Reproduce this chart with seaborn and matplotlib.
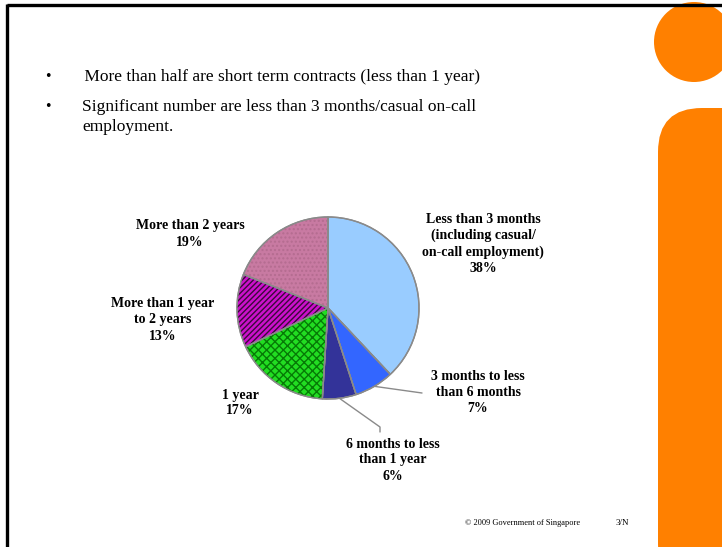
import numpy as np
import matplotlib
matplotlib.use("Agg")
import matplotlib.pyplot as plt
from matplotlib.patches import Circle, FancyBboxPatch
import seaborn as sns

# Contract duration shares (percent), clockwise from 12 o'clock
categories = [
    "Less than 3 months\n(including casual/\non-call employment)",
    "3 months to less\nthan 6 months",
    "6 months to less\nthan 1 year",
    "1 year",
    "More than 1 year\nto 2 years",
    "More than 2 years",
]
shares = [38, 7, 6, 17, 13, 19]

bullets = [
    " More than half are short term contracts (less than 1 year)",
    "Significant number are less than 3 months/casual on-call\nemployment.",
]
footer = "\u00a9 2009 Government of Singapore"
page = "3/N"

sns.set_theme(style="white")
plt.rcParams["font.family"] = ["Liberation Serif", "DejaVu Serif"]
plt.rcParams["hatch.linewidth"] = 1.0
plt.rcParams["text.color"] = "black"

W, H = 722, 547
fig = plt.figure(figsize=(W / 100, H / 100), dpi=100)
fig.patch.set_facecolor("white")

# Slide canvas in pixel coordinates (y grows downwards)
bg = fig.add_axes([0, 0, 1, 1])
bg.set_xlim(0, W)
bg.set_ylim(H, 0)
bg.axis("off")

orange = "#FF8000"
bg.add_patch(Circle((694, 42), 40, color=orange, lw=0, zorder=1))
bg.add_patch(FancyBboxPatch((658, 108), 110, 480,
                            boxstyle="round,pad=0,rounding_size=44",
                            color=orange, lw=0, zorder=1))

# Slide frame
bg.plot([7, W], [5, 5], color="black", lw=2.4, solid_capstyle="butt", zorder=3)
bg.plot([7, 7], [4, H], color="black", lw=2.4, solid_capstyle="butt", zorder=3)

# Bullet points
bfs = 12.5
bg.text(48, 75, "\u2022", fontsize=bfs - 1, va="center_baseline", ha="center")
bg.text(80, 75, bullets[0], fontsize=bfs, va="center_baseline", ha="left")
bg.text(48, 105, "\u2022", fontsize=bfs - 1, va="center_baseline", ha="center")
first, second = bullets[1].split("\n")
bg.text(82, 105, first, fontsize=bfs, va="center_baseline", ha="left")
bg.text(82, 125, second, fontsize=bfs, va="center_baseline", ha="left")

# Footer
bg.text(523, 523, footer, fontsize=6, va="center", ha="center")
bg.text(622, 523, page, fontsize=6.5, va="center", ha="center")

# Pie chart
cx, cy, R = 328, 308, 91
pax = fig.add_axes([(cx - 100) / W, 1 - (cy + 100) / H, 200 / W, 200 / H])

colors = ["#99CCFF", "#3366FF", "#333399", "#22DD22", "#CC11CC", "#C87AA2"]
hatches = [None, None, None, "xxxx", "//////", "...."]
hatch_colors = [None, None, None, "#067A06", "#3A0A3A", "#B46C90"]

pax.pie(shares, radius=R, startangle=90, counterclock=False, colors=colors,
        wedgeprops=dict(edgecolor="#8A8A8A", linewidth=1.0))
overlay, _ = pax.pie(shares, radius=R, startangle=90, counterclock=False,
                     colors=["none"] * len(shares),
                     wedgeprops=dict(linewidth=0))
for w, h, hc in zip(overlay, hatches, hatch_colors):
    if h:
        w.set_hatch(h)
        w.set_edgecolor(hc)
        w.set_fill(False)
    else:
        w.set_visible(False)
# outline on top of hatch
pax.pie(shares, radius=R, startangle=90, counterclock=False,
        colors=["none"] * len(shares),
        wedgeprops=dict(edgecolor="#8A8A8A", linewidth=1.0, fill=False))
pax.set_xlim(-100, 100)
pax.set_ylim(-100, 100)
pax.set_aspect("equal")
pax.axis("off")

# Slice labels
label_pos = [(483, 244), (478, 392), (393, 460), (240, 403), (163, 320), (190, 234)]
for name, val, (lx, ly) in zip(categories, shares, label_pos):
    bg.text(lx, ly, f"{name}\n{val}%", fontsize=10, fontweight="bold",
            ha="center", va="center", linespacing=1.3, zorder=5)

# Leader lines for the two narrow slices
cum = np.cumsum([0] + shares)
mids = 90 - 3.6 * (cum[:-1] + cum[1:]) / 2
for i, ends in [(1, [(422, 393)]), (2, [(380, 427), (380, 432)])]:
    a = np.deg2rad(mids[i])
    x0, y0 = cx + R * np.cos(a), cy - R * np.sin(a)
    xs = [x0] + [p[0] for p in ends]
    ys = [y0] + [p[1] for p in ends]
    bg.plot(xs, ys, color="#8A8A8A", lw=1.0, zorder=4)

fig.savefig("out.png", dpi=100)
